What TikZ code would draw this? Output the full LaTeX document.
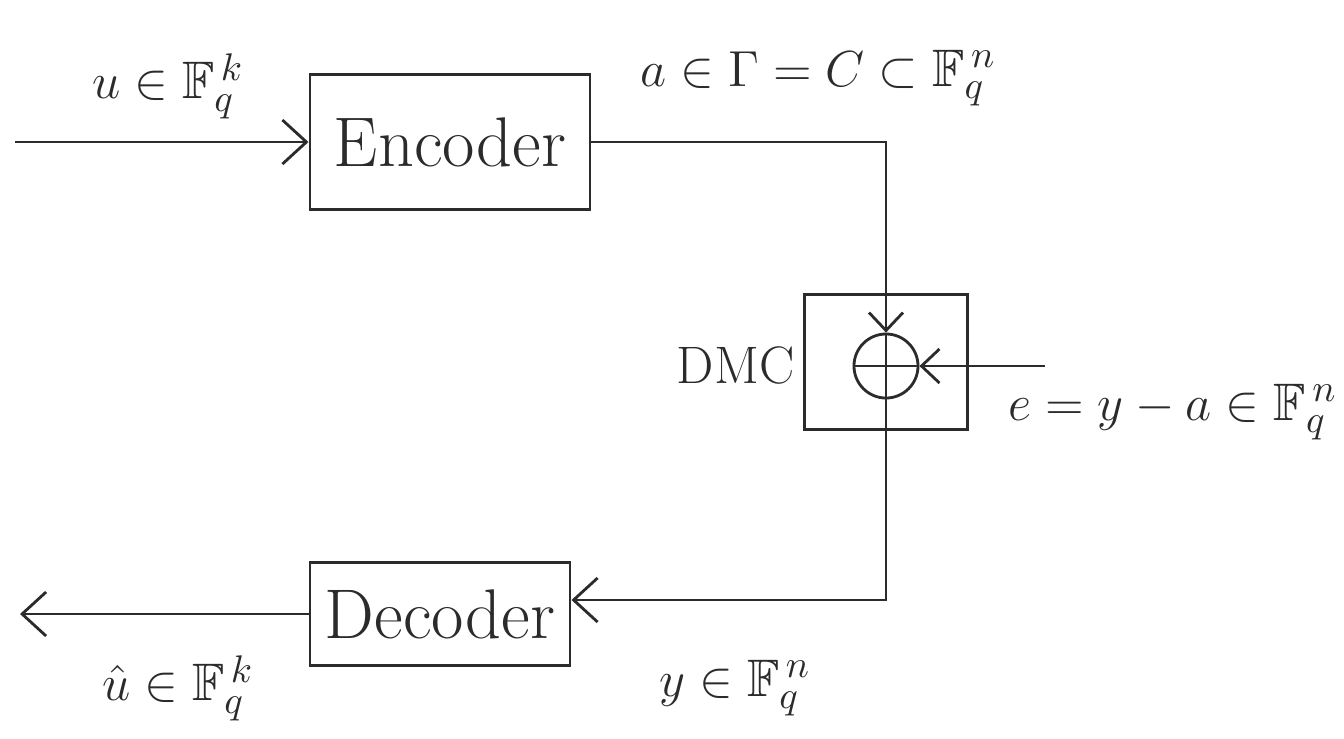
\documentclass[tikz,border=0pt]{standalone}
\usepackage{amssymb}
\usetikzlibrary{arrows.meta}
\definecolor{ink}{HTML}{2B2B2B}
\begin{document}
\begin{tikzpicture}[x=0.01cm,y=0.01cm,
  ink/.style={draw=ink,line width=0.8pt},
  block/.style={ink,rectangle,inner sep=0pt,text=ink,font=\fontsize{20}{24}\selectfont},
  lbl/.style={text=ink,font=\fontsize{15}{18}\selectfont,inner sep=0pt},
  flow/.style={ink,-{Straight Barb[length=2.4mm,width=4.4mm]}},
  flowsm/.style={ink,-{Straight Barb[length=1.8mm,width=3.4mm]}}]
  \useasboundingbox (0,0) rectangle (1344,-738);

  % blocks
  \node[block,minimum width=2.8cm,minimum height=1.35cm] (enc) at (450,-142) {Encoder};
  \node[block,minimum width=2.6cm,minimum height=1.03cm] (dec) at (440,-614) {Decoder};
  \node[ink,rectangle,minimum width=1.63cm,minimum height=1.35cm] (dmc) at (886,-362) {};
  \node[ink,circle,minimum size=0.64cm,inner sep=0pt] (sum) at (886,-366) {};
  \draw[ink] (sum.north) -- (sum.south) (sum.west) -- (sum.east);

  % free ends
  \coordinate (uin) at (15,-142);
  \coordinate (uout) at (20,-614);
  \coordinate (ein) at (1045,-366);

  % connectors
  \draw[flow] (uin) -- (enc.west);
  \draw[flowsm] (enc.east) -| (sum.north);
  \draw[flowsm] (ein) -- (sum.east);
  \draw[flow] (sum.south) |- ([yshift=1.4mm]dec.east);
  \draw[flow] (dec.west) -- (uout);

  % labels
  \node[lbl] (lu) at (168,-86) {$u\in\mathbb{F}_q^{\,k}$};
  \node[lbl] (la) at (818,-78) {$a\in\Gamma=C\subset\mathbb{F}_q^{\,n}$};
  \node[lbl,anchor=east] (ldmc) at (795,-365) {DMC};
  \node[lbl,anchor=east] (le) at (1338,-412) {$e=y-a\in\mathbb{F}_q^{\,n}$};
  \node[lbl] (ly) at (735,-688) {$y\in\mathbb{F}_q^{\,n}$};
  \node[lbl] (lh) at (178,-688) {$\hat{u}\in\mathbb{F}_q^{\,k}$};
\end{tikzpicture}
\end{document}
